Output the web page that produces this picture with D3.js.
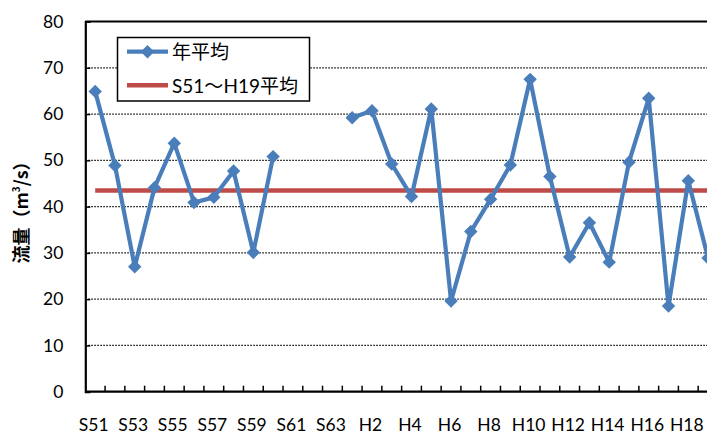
<!DOCTYPE html>
<html>
<head>
<meta charset="utf-8">
<script src="https://cdn.jsdelivr.net/npm/d3@7"></script>
<style>
  html, body { margin: 0; padding: 0; background: #fff; overflow: hidden; }
  svg { display: block; }
  text { font-family: Lato, "Noto Sans CJK JP", sans-serif; fill: #000; }
  .jp { font-family: "Noto Sans CJK JP", Lato, sans-serif; }
</style>
</head>
<body>
<svg id="chart" width="707" height="434"></svg>
<script>
// Fiscal years, Showa 51 to Heisei 19
const years = ["S51","S52","S53","S54","S55","S56","S57","S58","S59","S60","S61","S62","S63",
  "H1","H2","H3","H4","H5","H6","H7","H8","H9","H10","H11","H12","H13","H14","H15","H16","H17","H18","H19"];
// Annual mean flow (m³/s); null = no record
const annualFlow = [64.9, 48.9, 27.0, 44.1, 53.7, 40.9, 42.0, 47.7, 30.1, 50.8, null, null, null,
  59.2, 60.7, 49.2, 42.2, 61.1, 19.6, 34.6, 41.6, 49.0, 67.5, 46.5, 29.1, 36.5, 28.0, 49.6, 63.4, 18.5, 45.6, 28.9];
// Long-term mean S51–H19
const periodMean = 43.5;
const yTicks = [0, 10, 20, 30, 40, 50, 60, 70, 80];
const seriesNames = ["年平均", "S51～H19平均"];

const svg = d3.select("#chart");
const plotLeft = 85.3, plotTop = 21.5, plotBottom = 391.7, band = 19.77;

const x = d3.scaleBand().domain(years).range([plotLeft, plotLeft + band * years.length]).padding(0);
const y = d3.scaleLinear().domain([0, 80]).range([plotBottom, plotTop]);
const cx = d => x(d) + x.bandwidth() / 2;

// dotted gridlines
svg.append("g").selectAll("line").data(yTicks.filter(v => v > 0 && v < 80)).join("line")
  .attr("x1", plotLeft).attr("x2", 707)
  .attr("y1", d => y(d)).attr("y2", d => y(d))
  .attr("stroke", "#000").attr("stroke-width", 1.2).attr("stroke-dasharray", "1.5,1.5");

// top border of plot area
svg.append("line").attr("x1", plotLeft).attr("x2", 707).attr("y1", y(80)).attr("y2", y(80))
  .attr("stroke", "#000").attr("stroke-width", 1.8);

// y axis
const yAxis = d3.axisLeft(y).tickValues(yTicks).tickSize(-5).tickPadding(22);
const gy = svg.append("g").attr("transform", `translate(${plotLeft},0)`).call(yAxis);
gy.select(".domain").attr("stroke", "#000").attr("stroke-width", 2.2);
gy.selectAll(".tick line").attr("stroke", "#000").attr("stroke-width", 1.5);
gy.selectAll(".tick text").attr("font-size", 17.5).attr("font-family", "Lato, sans-serif").attr("fill", "#000");

// x axis: ticks between categories, labels on every other year
const gx = svg.append("g").attr("transform", `translate(0,${plotBottom})`);
gx.append("line").attr("x1", plotLeft).attr("x2", 707).attr("stroke", "#000").attr("stroke-width", 2.2);
gx.selectAll("line.tk").data(years.slice(1)).join("line").attr("class", "tk")
  .attr("x1", d => x(d)).attr("x2", d => x(d)).attr("y1", 0).attr("y2", -6)
  .attr("stroke", "#000").attr("stroke-width", 1.5);
gx.selectAll("text").data(years.filter((d, i) => i % 2 === 0)).join("text")
  .attr("x", d => cx(d) - 1.5).attr("y", 39.5)
  .attr("text-anchor", "middle").attr("font-size", 17.5).text(d => d);

// period mean line
svg.append("line")
  .attr("x1", cx(years[0])).attr("x2", cx(years[years.length - 1]))
  .attr("y1", y(periodMean)).attr("y2", y(periodMean))
  .attr("stroke", "#BE4B48").attr("stroke-width", 4.5);

// annual mean series
const line = d3.line().defined(d => d.v !== null).x(d => cx(d.k)).y(d => y(d.v));
const pts = years.map((k, i) => ({ k, v: annualFlow[i] }));
svg.append("path").datum(pts).attr("d", line)
  .attr("fill", "none").attr("stroke", "#4A7EBB").attr("stroke-width", 4.2).attr("stroke-linejoin", "round");
const diamond = d3.symbol().type(d3.symbolDiamond2).size(115);
svg.append("g").selectAll("path").data(pts.filter(d => d.v !== null)).join("path")
  .attr("d", diamond).attr("transform", d => `translate(${cx(d.k)},${y(d.v)})`)
  .attr("fill", "#4A7EBB");

// legend
const lg = svg.append("g");
lg.append("rect").attr("x", 117.5).attr("y", 37.5).attr("width", 192).attr("height", 63.5)
  .attr("fill", "#fff").attr("stroke", "#000").attr("stroke-width", 1.5);
lg.append("line").attr("x1", 127).attr("x2", 168).attr("y1", 51.7).attr("y2", 51.7)
  .attr("stroke", "#4A7EBB").attr("stroke-width", 4.2);
lg.append("path").attr("d", diamond).attr("transform", "translate(147.5,51.7)").attr("fill", "#4A7EBB");
lg.append("line").attr("x1", 127).attr("x2", 168).attr("y1", 85.3).attr("y2", 85.3)
  .attr("stroke", "#BE4B48").attr("stroke-width", 4.5);
lg.append("text").attr("class", "jp").attr("x", 172).attr("y", 58.5).attr("font-size", 19).text(seriesNames[0]);
lg.append("text").attr("x", 172).attr("y", 92.5).attr("font-size", 19)
  .html(`<tspan font-family="Lato, sans-serif">S51</tspan><tspan class="jp">～</tspan><tspan font-family="Lato, sans-serif">H19</tspan><tspan class="jp">平均</tspan>`);

// y axis title
svg.append("text").attr("class", "jp")
  .attr("transform", "translate(28,208) rotate(-90)")
  .attr("text-anchor", "middle").attr("font-size", 18).attr("font-weight", "bold")
  .html(`流量（m<tspan font-size="10" dy="-8">3</tspan><tspan dy="8">/s）</tspan>`);
</script>
</body>
</html>
